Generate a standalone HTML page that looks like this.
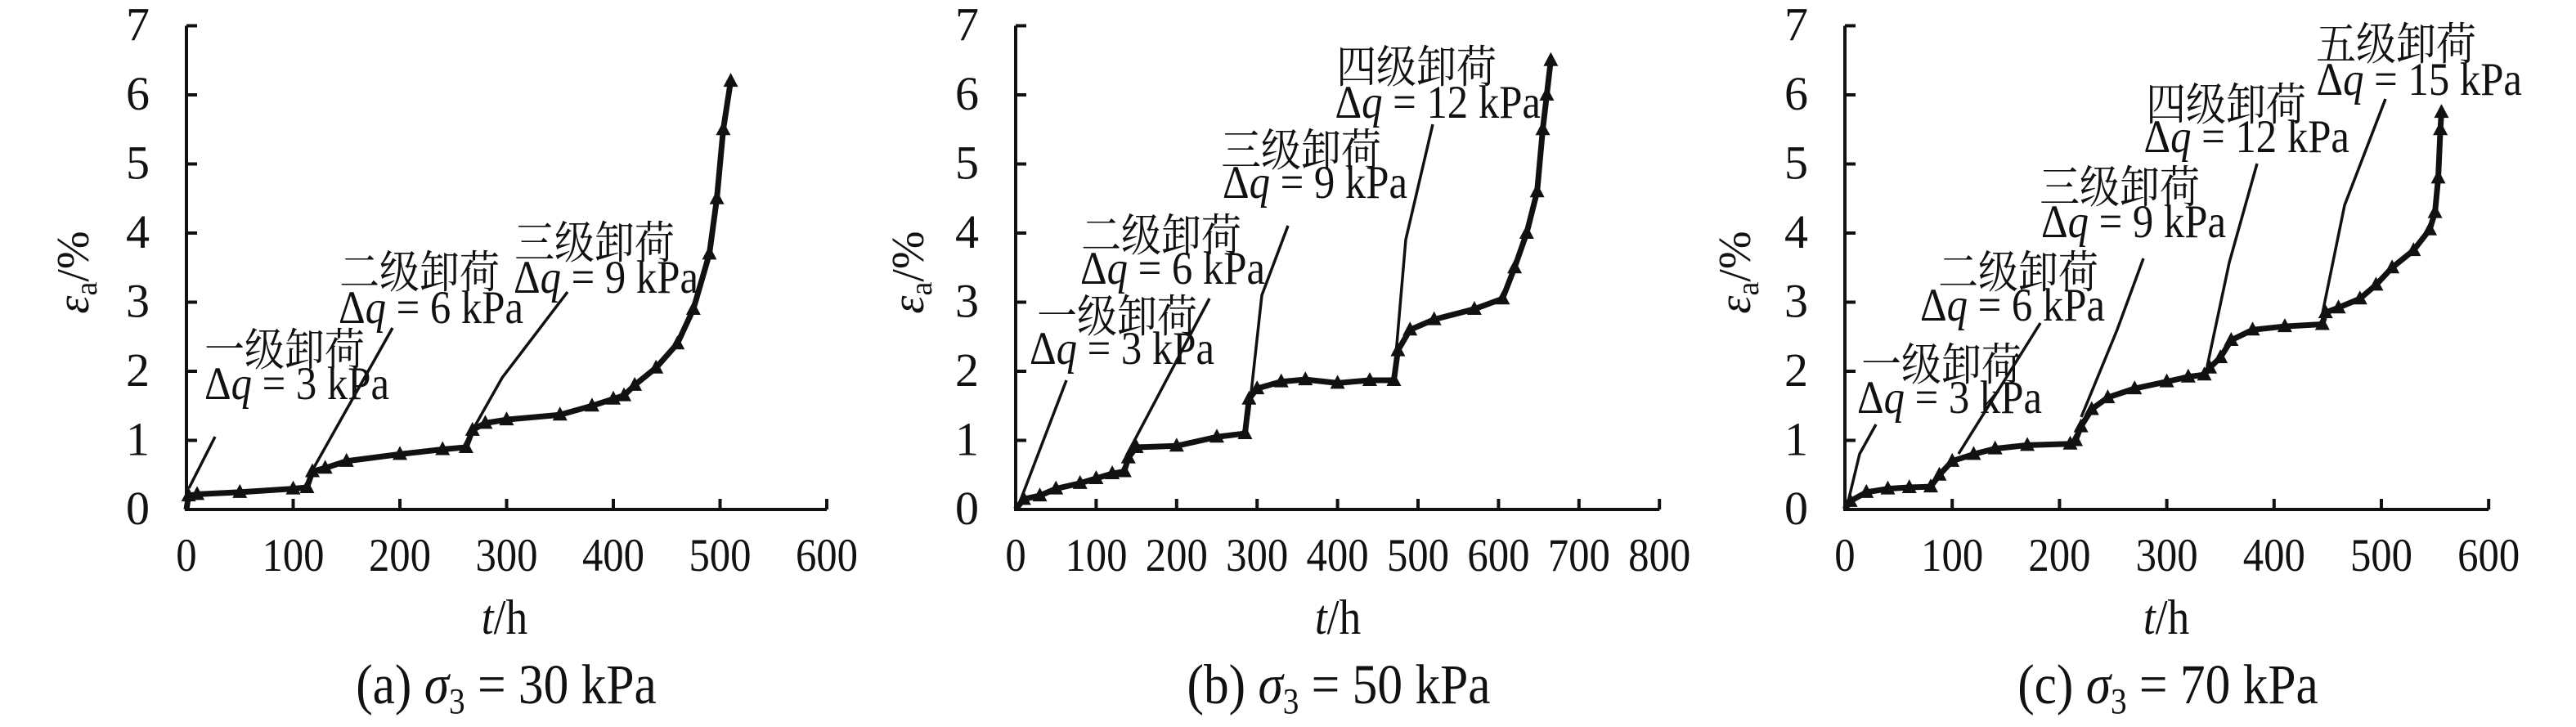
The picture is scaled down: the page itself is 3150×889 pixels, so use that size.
<!DOCTYPE html>
<html><head><meta charset="utf-8"><style>
html,body{margin:0;padding:0;background:#fff;}
svg text{font-family:"Liberation Serif","Noto Serif CJK SC",serif;fill:#111;}
svg text.sc{transform-box:fill-box;transform-origin:center;transform:scaleX(0.89);}
</style></head><body>
<svg id="s" width="3150" height="884" viewBox="0 0 3150 884" xmlns="http://www.w3.org/2000/svg">
<g font-size="57">
<text class="sc" x="238" y="447" font-size="55">一级卸荷</text>
<text class="sc" x="236" y="488">Δ<tspan font-style="italic">q</tspan> = 3 kPa</text>
<text class="sc" x="403" y="352" font-size="55">二级卸荷</text>
<text class="sc" x="400" y="395">Δ<tspan font-style="italic">q</tspan> = 6 kPa</text>
<text class="sc" x="617" y="316" font-size="55">三级卸荷</text>
<text class="sc" x="614" y="358">Δ<tspan font-style="italic">q</tspan> = 9 kPa</text>
<text class="sc" x="1256" y="406" font-size="55">一级卸荷</text>
<text class="sc" x="1245" y="445">Δ<tspan font-style="italic">q</tspan> = 3 kPa</text>
<text class="sc" x="1310" y="307" font-size="55">二级卸荷</text>
<text class="sc" x="1307" y="347">Δ<tspan font-style="italic">q</tspan> = 6 kPa</text>
<text class="sc" x="1481" y="203" font-size="55">三级卸荷</text>
<text class="sc" x="1481" y="242">Δ<tspan font-style="italic">q</tspan> = 9 kPa</text>
<text class="sc" x="1622" y="101" font-size="55">四级卸荷</text>
<text class="sc" x="1617" y="144">Δ<tspan font-style="italic">q</tspan> = 12 kPa</text>
<text class="sc" x="2264" y="465" font-size="55">一级卸荷</text>
<text class="sc" x="2257" y="505">Δ<tspan font-style="italic">q</tspan> = 3 kPa</text>
<text class="sc" x="2358" y="352" font-size="55">二级卸荷</text>
<text class="sc" x="2334" y="392">Δ<tspan font-style="italic">q</tspan> = 6 kPa</text>
<text class="sc" x="2482" y="248" font-size="55">三级卸荷</text>
<text class="sc" x="2482" y="290">Δ<tspan font-style="italic">q</tspan> = 9 kPa</text>
<text class="sc" x="2612" y="147" font-size="55">四级卸荷</text>
<text class="sc" x="2606" y="186">Δ<tspan font-style="italic">q</tspan> = 12 kPa</text>
<text class="sc" x="2820" y="73" font-size="55">五级卸荷</text>
<text class="sc" x="2817" y="116">Δ<tspan font-style="italic">q</tspan> = 15 kPa</text>
</g>
<g font-size="60" text-anchor="middle">
<text class="sc" x="617" y="775"><tspan font-style="italic">t</tspan>/h</text>
<text class="sc" x="1636" y="775"><tspan font-style="italic">t</tspan>/h</text>
<text class="sc" x="2649" y="775"><tspan font-style="italic">t</tspan>/h</text>
</g>
<g font-size="69" text-anchor="middle">
<text class="sc" x="619" y="860">(a) <tspan font-style="italic">σ</tspan><tspan font-size="44" dy="12">3</tspan><tspan dy="-12"> = 30 kPa</tspan></text>
<text class="sc" x="1637" y="860">(b) <tspan font-style="italic">σ</tspan><tspan font-size="44" dy="12">3</tspan><tspan dy="-12"> = 50 kPa</tspan></text>
<text class="sc" x="2651" y="860">(c) <tspan font-style="italic">σ</tspan><tspan font-size="44" dy="12">3</tspan><tspan dy="-12"> = 70 kPa</tspan></text>
</g>
<g font-size="56" text-anchor="middle">
<text transform="translate(108,333) rotate(-90)"><tspan font-style="italic">ε</tspan><tspan font-size="38" dy="10">a</tspan><tspan dy="-10">/%</tspan></text>
<text transform="translate(1129,333) rotate(-90)"><tspan font-style="italic">ε</tspan><tspan font-size="38" dy="10">a</tspan><tspan dy="-10">/%</tspan></text>
<text transform="translate(2140,333) rotate(-90)"><tspan font-style="italic">ε</tspan><tspan font-size="38" dy="10">a</tspan><tspan dy="-10">/%</tspan></text>
</g>
<g id="g"></g>
</svg>
<script>
var NS="http://www.w3.org/2000/svg",g=document.getElementById("g");
function el(t,a,txt){var e=document.createElementNS(NS,t);for(var k in a)e.setAttribute(k,a[k]);if(txt!==undefined)e.textContent=txt;g.appendChild(e);return e;}
var Y0=623,U=84.5;
var P=[
{x0:228,s:1.305,max:600,
d:[[0,0],[2,0.2],[10,0.22],[50,0.25],[100,0.3],[113,0.32],[118,0.55],[130,0.6],[150,0.7],[200,0.8],[240,0.87],[262,0.9],[268,1.15],[280,1.25],[300,1.3],[350,1.37],[380,1.5],[400,1.6],[410,1.65],[420,1.8],[440,2.05],[460,2.4],[475,2.9],[490,3.7],[497,4.5],[503,5.5],[510,6.2]],
L:[[[263,534],[231,597]],[[480,401],[382,575]],[[694,357],[614,462],[579,524]]]},
{x0:1242,s:0.984,max:800,
d:[[0,0],[10,0.15],[30,0.2],[50,0.3],[80,0.38],[100,0.45],[120,0.52],[135,0.55],[140,0.75],[150,0.9],[200,0.92],[250,1.05],[285,1.1],[290,1.6],[300,1.75],[330,1.85],[360,1.88],[400,1.83],[440,1.87],[470,1.87],[475,2.3],[490,2.6],[520,2.75],[570,2.9],[605,3.05],[620,3.5],[635,4],[648,4.6],[655,5.5],[660,6],[665,6.5]],
L:[[[1304,465],[1247,614]],[[1479,365],[1377,558]],[[1575,276],[1543,361],[1527,507]],[[1752,152],[1719,293],[1706,445]]]},
{x0:2256,s:1.312,max:600,
d:[[0,0],[5,0.12],[20,0.25],[40,0.3],[60,0.32],[80,0.33],[88,0.5],[100,0.7],[120,0.8],[140,0.88],[170,0.93],[210,0.95],[215,1.0],[220,1.2],[230,1.45],[245,1.62],[270,1.75],[300,1.85],[320,1.92],[335,1.95],[340,2.05],[350,2.2],[360,2.45],[380,2.6],[410,2.65],[445,2.68],[448,2.85],[460,2.92],[480,3.05],[495,3.25],[510,3.5],[530,3.75],[545,4.05],[550,4.3],[553,4.8],[555,5.5],[556,5.75]],
L:[[[2294,519],[2274,555],[2261,609]],[[2495,395],[2395,555]],[[2621,316],[2589,403],[2545,510]],[[2760,200],[2726,321],[2699,448]],[[2917,121],[2867,251],[2840,383]]]}
];
P.forEach(function(p){
 var xe=p.x0+p.s*p.max;
 el("path",{d:"M"+p.x0+" "+(Y0-7*U)+"H"+p.x0+"V"+Y0+"H"+xe,fill:"none",stroke:"#111","stroke-width":4});
 for(var i=0;i<=7;i++){var y=Y0-i*U;el("line",{x1:p.x0,y1:y,x2:p.x0+13,y2:y,stroke:"#111","stroke-width":4});
  el("text",{x:p.x0-45,y:y+18,"font-size":58,"text-anchor":"end"},String(i));}
 for(var t=0;t<=p.max;t+=100){var x=p.x0+p.s*t;el("line",{x1:x,y1:Y0,x2:x,y2:Y0-13,stroke:"#111","stroke-width":4});
  el("text",{x:x,y:698,"font-size":57,"text-anchor":"middle","class":"sc"},String(t));}
 var pts=p.d.map(function(q){return [p.x0+p.s*q[0],Y0-U*q[1]];});
 el("polyline",{points:pts.map(function(q){return q.join(",")}).join(" "),fill:"none",stroke:"#111","stroke-width":7,"stroke-linejoin":"round"});
 pts.forEach(function(q,i){if(i==0)return;var x=q[0],y=q[1];
  el("polygon",{points:(x-9)+","+(y+7)+" "+(x+9)+","+(y+7)+" "+x+","+(y-10),fill:"#111"});});
 p.L.forEach(function(l){el("polyline",{points:l.map(function(q){return q.join(",")}).join(" "),fill:"none",stroke:"#111","stroke-width":3.5});});
});
</script>
</body></html>
